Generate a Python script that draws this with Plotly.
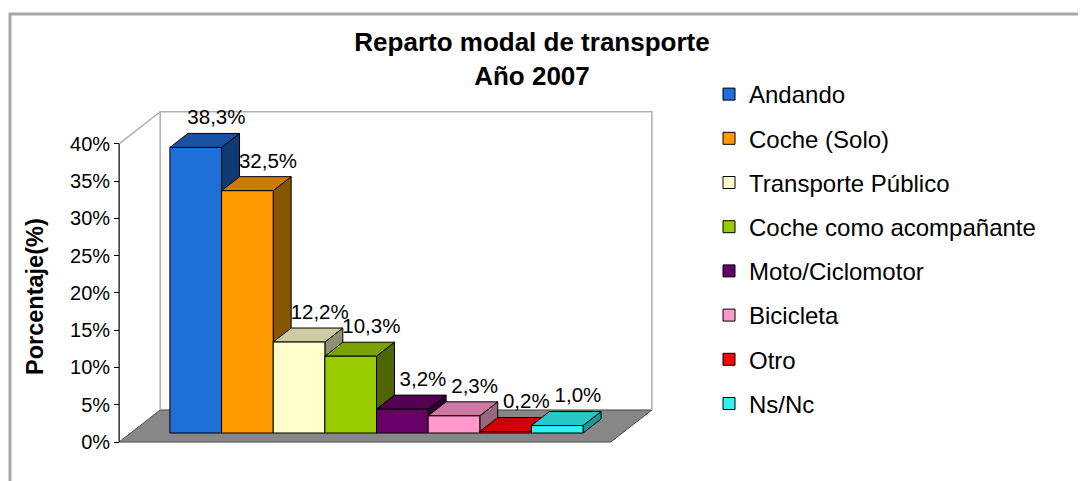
import plotly.graph_objects as go

# ---------------- data ----------------
categories = ["Andando", "Coche (Solo)", "Transporte Público", "Coche como acompañante",
              "Moto/Ciclomotor", "Bicicleta", "Otro", "Ns/Nc"]
values = [38.3, 32.5, 12.2, 10.3, 3.2, 2.3, 0.2, 1.0]
value_labels = ["38,3%", "32,5%", "12,2%", "10,3%", "3,2%", "2,3%", "0,2%", "1,0%"]
tick_values = [0, 5, 10, 15, 20, 25, 30, 35, 40]
tick_labels = ["0%", "5%", "10%", "15%", "20%", "25%", "30%", "35%", "40%"]

# ---------------- style ----------------
front_colors = ["#1F6FD8", "#FF9900", "#FFFFCC", "#99CC00", "#660066", "#FF99CC", "#FF0000", "#33F0F0"]
top_colors = ["#17519F", "#CC7A00", "#CCCCA3", "#7AA300", "#520052", "#CC7AA3", "#CC0000", "#29C8C8"]
side_colors = ["#0F3A73", "#865600", "#8F8F73", "#4D6600", "#330033", "#99667F", "#800000", "#1A9999"]

FONT = "Arial, Liberation Sans, sans-serif"
Y_MAX_AXIS = 40
DEPTH_X = 0.795      # floor depth, x units
DEPTH_Y = 4.30       # floor depth, y units
BAR_T0 = 0.281       # bar front position in floor depth
BAR_T = 0.4375       # bar depth fraction
PAD = 0.76           # floor padding beyond bars (x units)
LABEL_DX = 0.40
LABEL_DY = 1.9

# page offset (browser body margin)
OFF = 8
FIG_W, FIG_H = 1086 - OFF, 481 - OFF
L, W, T, H = 115 - OFF, 541, 108 - OFF, 337

shift_x = BAR_T0 * DEPTH_X
bar_base = BAR_T0 * DEPTH_Y
bdx = BAR_T * DEPTH_X
bdy = BAR_T * DEPTH_Y
n = len(values)

FLx = -0.5 - shift_x - PAD
FRx = (n - 0.5) - shift_x + PAD
xmin = FLx - 0.08
xmax = FRx + DEPTH_X + 0.08
ymin = -0.4
ymax = Y_MAX_AXIS + DEPTH_Y + 0.5


def px_x(p):
    return (p - OFF - L) / W


def px_y(p):
    return (T + H - (p - OFF)) / H


fig = go.Figure()

shapes = []
# floor
shapes.append(dict(type="path", xref="x", yref="y", layer="below",
                   path=f"M{FLx},0 L{FRx},0 L{FRx + DEPTH_X},{DEPTH_Y} L{FLx + DEPTH_X},{DEPTH_Y} Z",
                   fillcolor="#878787", line=dict(color="#4a4a4a", width=1)))
# back wall outline
shapes.append(dict(type="path", xref="x", yref="y", layer="below",
                   path=(f"M{FLx + DEPTH_X},{DEPTH_Y} L{FLx + DEPTH_X},{Y_MAX_AXIS + DEPTH_Y} "
                         f"L{FRx + DEPTH_X},{Y_MAX_AXIS + DEPTH_Y} L{FRx + DEPTH_X},{DEPTH_Y}"),
                   line=dict(color="#AFAFAF", width=1.5)))
# left wall top edge
shapes.append(dict(type="line", xref="x", yref="y", layer="below",
                   x0=FLx, y0=Y_MAX_AXIS, x1=FLx + DEPTH_X, y1=Y_MAX_AXIS + DEPTH_Y,
                   line=dict(color="#AFAFAF", width=1.5)))
# bar side & top faces
for i, v in enumerate(values):
    xr = i + 0.5
    xl = i - 0.5
    top = bar_base + v
    shapes.append(dict(type="path", xref="x", yref="y", layer="below",
                       path=f"M{xr},{bar_base} L{xr},{top} L{xr + bdx},{top + bdy} L{xr + bdx},{bar_base + bdy} Z",
                       fillcolor=side_colors[i], line=dict(color="black", width=1)))
    shapes.append(dict(type="path", xref="x", yref="y", layer="below",
                       path=f"M{xl},{top} L{xr},{top} L{xr + bdx},{top + bdy} L{xl + bdx},{top + bdy} Z",
                       fillcolor=top_colors[i], line=dict(color="black", width=1)))
# y axis line
shapes.append(dict(type="line", xref="x", yref="y", layer="above",
                   x0=FLx, y0=0, x1=FLx, y1=Y_MAX_AXIS, line=dict(color="black", width=1.2)))

# outer frame
shapes.append(dict(type="rect", xref="paper", yref="paper", layer="below",
                   x0=px_x(10), y0=px_y(492), x1=px_x(1092), y1=px_y(14),
                   line=dict(color="#A8A8A8", width=3)))

for i, (c, v) in enumerate(zip(categories, values)):
    fig.add_trace(go.Bar(x=[i], y=[v], base=[bar_base], width=[1.0], name=c, legendgroup=c,
                         marker=dict(color=front_colors[i], line=dict(color="black", width=1))))

fig.add_trace(go.Scatter(
    x=[i + LABEL_DX for i in range(n)],
    y=[bar_base + v + bdy + LABEL_DY for v in values],
    mode="text", text=value_labels, textposition="middle center",
    textfont=dict(family=FONT, size=20.5, color="black"),
    showlegend=False, cliponaxis=False, hoverinfo="skip"))

fig.update_layout(
    width=FIG_W, height=FIG_H, autosize=False,
    margin=dict(l=L, r=FIG_W - L - W, t=T, b=FIG_H - T - H),
    paper_bgcolor="white", plot_bgcolor="white",
    barmode="overlay",
    shapes=shapes,
    font=dict(family=FONT, color="black"),
    title=dict(text="<b>Reparto modal de transporte<br>Año 2007</b>",
               x=(532 - OFF) / FIG_W, xref="container", xanchor="center",
               y=1 - (51 - OFF) / FIG_H, yref="container", yanchor="middle",
               font=dict(family=FONT, size=26, color="black")),
    xaxis=dict(range=[xmin, xmax], visible=False, fixedrange=True),
    yaxis=dict(range=[ymin, ymax], tickvals=tick_values, ticktext=tick_labels,
               anchor="free", position=(FLx - xmin) / (xmax - xmin),
               ticks="outside", ticklen=5, tickcolor="black", tickwidth=1.2,
               showgrid=False, zeroline=False, showline=False,
               tickfont=dict(family=FONT, size=20, color="black")),
    legend=dict(x=px_x(709), xref="paper", xanchor="left",
                y=px_y(72), yref="paper", yanchor="top",
                maxheight=460,
                font=dict(family=FONT, size=24, color="black"),
                tracegroupgap=10, bgcolor="rgba(0,0,0,0)"),
    annotations=[dict(text="<b>Porcentaje(%)</b>", textangle=-90, xref="paper", yref="paper",
                      x=px_x(35), y=px_y(297), xanchor="center", yanchor="middle",
                      showarrow=False, font=dict(family=FONT, size=23.5, color="black"))],
)

fig.write_html("out.html")
